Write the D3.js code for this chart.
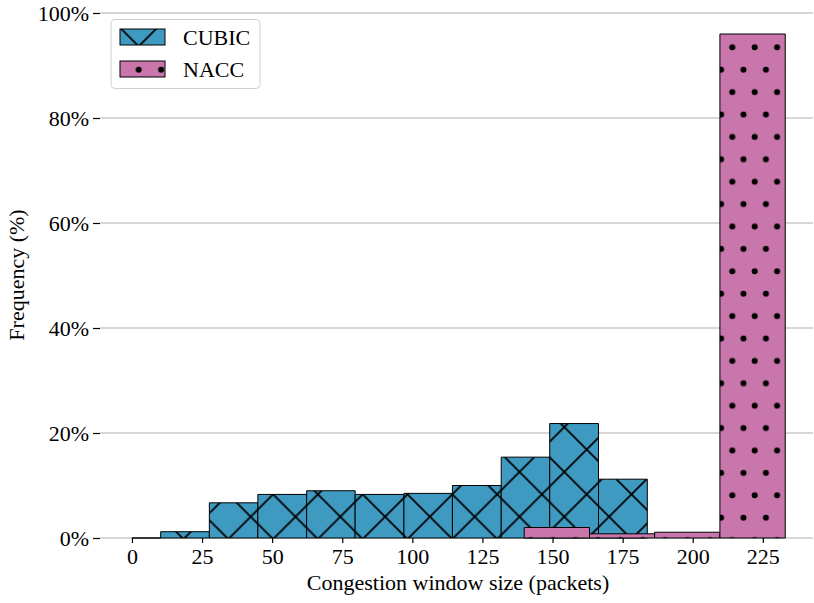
<!DOCTYPE html>
<html>
<head>
<meta charset="utf-8">
<script src="https://cdn.jsdelivr.net/npm/d3@7"></script>
<style>
  body { margin: 0; background: #fff; }
  text { font-family: "Liberation Serif", "DejaVu Serif", serif; fill: #000; }
</style>
</head>
<body>
<svg id="chart" width="814" height="603"></svg>
<script>
// histogram bins (packets) and frequencies (%)
var cubicEdges = [0, 10.24, 27.6, 44.9, 62.3, 79.6, 97.0, 114.3, 131.7, 149.0, 166.4, 183.8];
var cubicValues = [0, 1.2, 6.7, 8.3, 9.0, 8.3, 8.5, 10.0, 15.4, 21.8, 11.2];
var naccEdges = [139.9, 163.2, 186.4, 209.7, 233.0];
var naccValues = [2.0, 0.8, 1.1, 96.0];
var xTicks = [0, 25, 50, 75, 100, 125, 150, 175, 200, 225];
var yTicks = [0, 20, 40, 60, 80, 100];
var seriesNames = ['CUBIC', 'NACC'];

var cubicColor = '#3f9ac1';
var naccColor = '#c876ab';
var fontSize = '22px';

var svg = d3.select('#chart');

var x = d3.scaleLinear().domain([-11.4, 242.9]).range([100, 813]);
var y = d3.scaleLinear().domain([0, 100]).range([538, 13]);

function toBins(edges, values) {
  return values.map(function(v, i) { return {x0: edges[i], x1: edges[i + 1], v: v}; });
}

// bars as closed paths, so that empty bins still show their edge
function barPath(d) {
  var x0 = x(d.x0), x1 = x(d.x1), y0 = y(0), y1 = y(d.v);
  return 'M' + x0 + ',' + y0 + 'L' + x0 + ',' + y1 + 'L' + x1 + ',' + y1 + 'L' + x1 + ',' + y0 + 'Z';
}

// hatch patterns
var defs = svg.append('defs');
var P = 44.8;
var xp = defs.append('pattern')
    .attr('id', 'hatchX')
    .attr('patternUnits', 'userSpaceOnUse')
    .attr('width', P).attr('height', P)
    .attr('x', 250.7 % P).attr('y', 516.7 % P);
xp.append('rect').attr('width', P).attr('height', P).attr('fill', cubicColor);
xp.append('path')
    .attr('d', 'M-2,-2L' + (P + 2) + ',' + (P + 2) + 'M-2,' + (P + 2) + 'L' + (P + 2) + ',-2')
    .attr('stroke', '#000').attr('stroke-width', 1.8);

var Q = 22.4;
var dp = defs.append('pattern')
    .attr('id', 'hatchDot')
    .attr('patternUnits', 'userSpaceOnUse')
    .attr('width', Q).attr('height', 2 * Q)
    .attr('x', 732.3 - Q / 4).attr('y', 47.3 - Q / 2);
dp.append('rect').attr('width', Q).attr('height', 2 * Q).attr('fill', naccColor);
dp.append('circle').attr('cx', Q / 4).attr('cy', Q / 2).attr('r', 3).attr('fill', '#000');
dp.append('circle').attr('cx', 3 * Q / 4).attr('cy', 3 * Q / 2).attr('r', 3).attr('fill', '#000');

// grid lines
svg.append('g').selectAll('line')
  .data(yTicks).enter().append('line')
    .attr('x1', 100).attr('x2', 813)
    .attr('y1', function(d) { return y(d); })
    .attr('y2', function(d) { return y(d); })
    .attr('stroke', '#b0b0b0').attr('stroke-width', 1.2);

// y axis
var yAxis = svg.append('g')
    .attr('transform', 'translate(100,0)')
    .call(d3.axisLeft(y).tickValues(yTicks).tickSize(7).tickPadding(4)
      .tickFormat(function(d) { return d + '%'; }));
yAxis.select('.domain').remove();
yAxis.selectAll('line').attr('stroke', '#000').attr('stroke-width', 1.2);
yAxis.selectAll('text').style('font-size', fontSize).style('font-family', '"Liberation Serif", serif');

// x axis
var xAxis = svg.append('g')
    .attr('transform', 'translate(0,538)')
    .call(d3.axisBottom(x).tickValues(xTicks).tickSize(5).tickPadding(5));
xAxis.select('.domain').remove();
xAxis.selectAll('line').attr('stroke', '#000').attr('stroke-width', 1.2);
xAxis.selectAll('text').style('font-size', fontSize).style('font-family', '"Liberation Serif", serif');

// bars
svg.append('g').selectAll('path')
  .data(toBins(cubicEdges, cubicValues)).enter().append('path')
    .attr('d', barPath)
    .attr('fill', 'url(#hatchX)')
    .attr('stroke', '#000').attr('stroke-width', 1);

svg.append('g').selectAll('path')
  .data(toBins(naccEdges, naccValues)).enter().append('path')
    .attr('d', barPath)
    .attr('fill', 'url(#hatchDot)')
    .attr('stroke', '#000').attr('stroke-width', 1);

// axis labels
svg.append('text')
    .attr('x', 458).attr('y', 590)
    .attr('text-anchor', 'middle')
    .style('font-size', fontSize)
    .text('Congestion window size (packets)');

svg.append('text')
    .attr('transform', 'translate(24,275) rotate(-90)')
    .attr('text-anchor', 'middle')
    .style('font-size', fontSize)
    .text('Frequency (%)');

// legend
var legend = svg.append('g');
legend.append('rect')
    .attr('x', 111).attr('y', 19.5).attr('width', 149).attr('height', 69)
    .attr('rx', 4)
    .attr('fill', '#fff').attr('fill-opacity', 0.8)
    .attr('stroke', '#d0d0d0').attr('stroke-width', 1);
var fills = ['url(#hatchX)', 'url(#hatchDot)'];
seriesNames.forEach(function(name, i) {
  legend.append('rect')
      .attr('x', 120).attr('y', 29 + i * 32).attr('width', 45).attr('height', 16)
      .attr('fill', fills[i]).attr('stroke', '#000').attr('stroke-width', 1);
  legend.append('text')
      .attr('x', 183).attr('y', 45 + i * 32)
      .style('font-size', fontSize)
      .text(name);
});
</script>
</body>
</html>
